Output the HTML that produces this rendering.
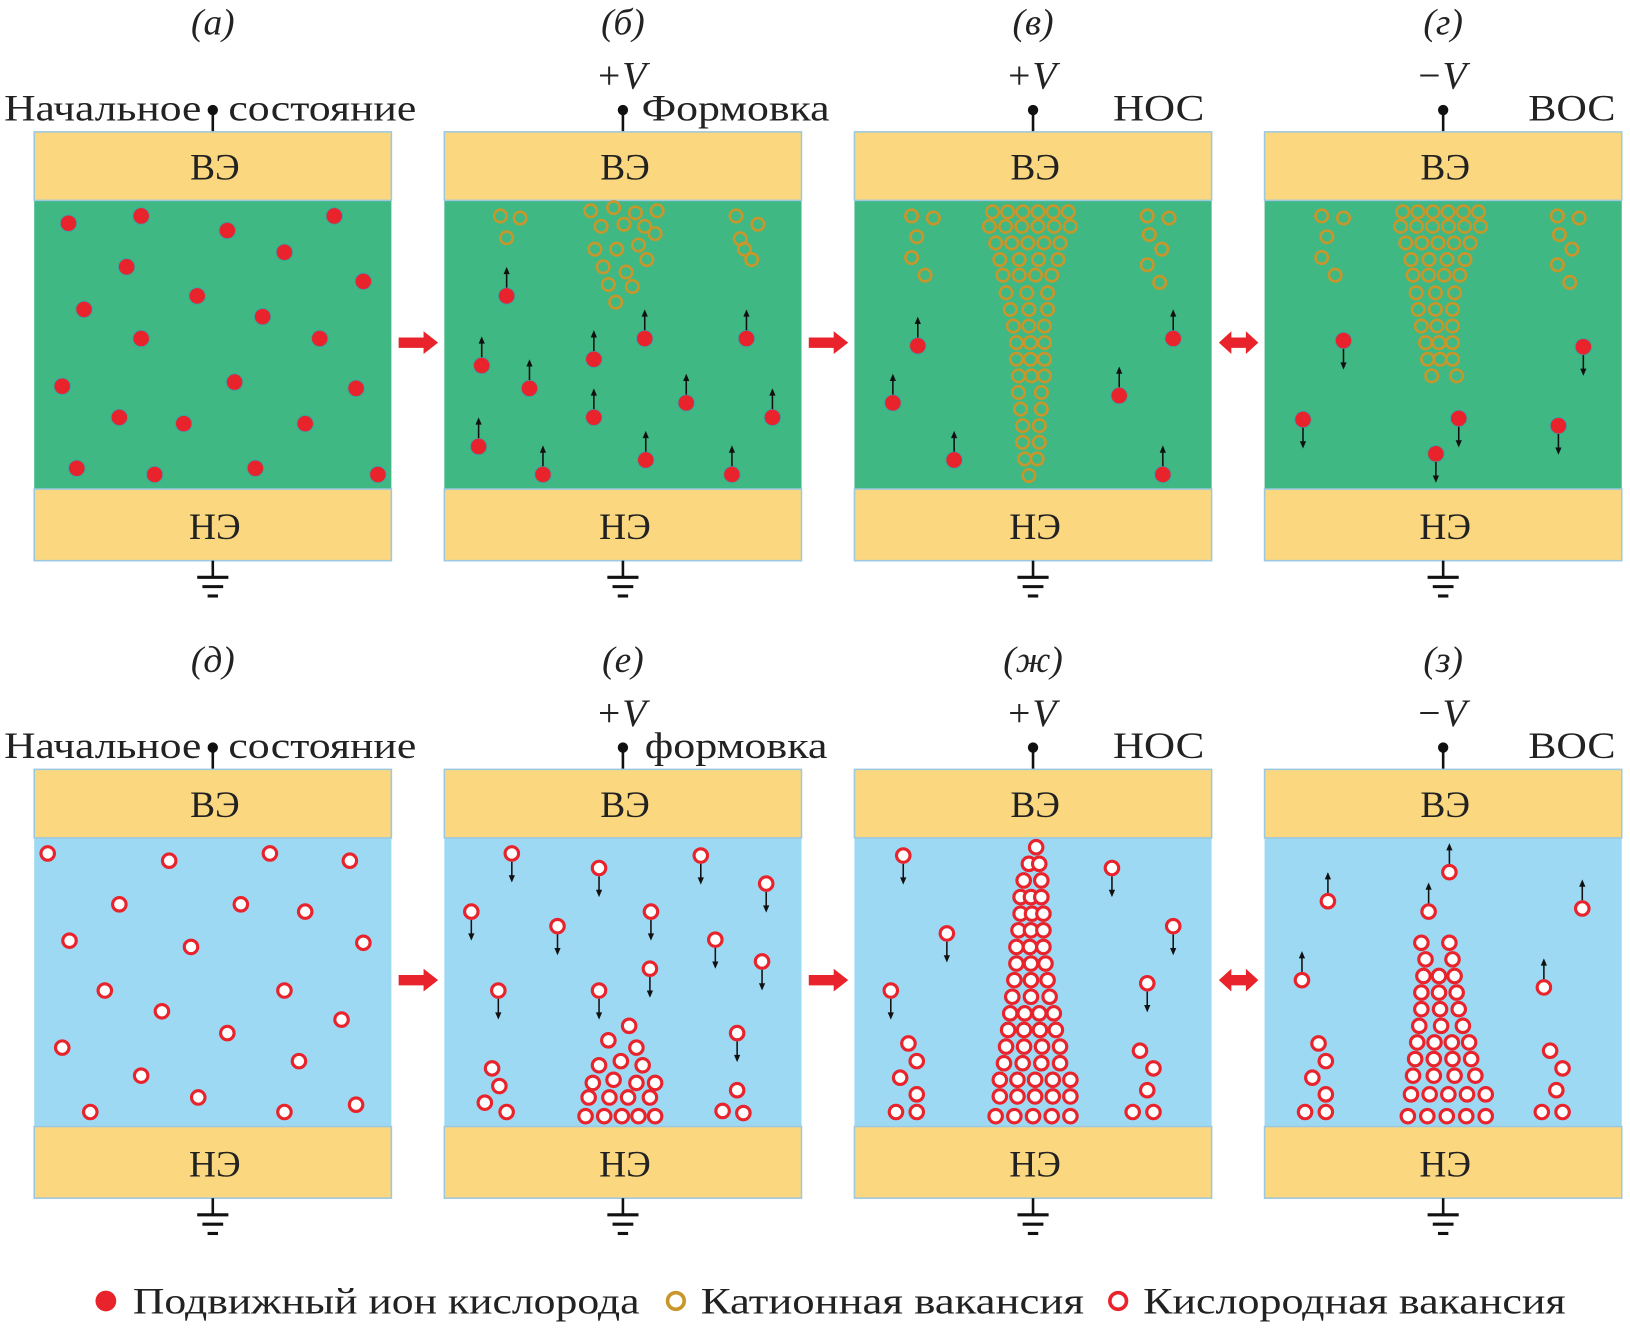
<!DOCTYPE html>
<html><head><meta charset="utf-8"><style>
html,body{margin:0;padding:0;background:#fff}
svg{display:block}
text{font-family:"Liberation Serif","DejaVu Serif",serif;fill:#222}
</style></head><body>
<svg id="fig" width="1630" height="1329" viewBox="0 0 1568 1280" xmlns="http://www.w3.org/2000/svg"></svg>
<script>
const panelX=[32,427,822,1217];
const rowY=[0,614];
const letters=[["(а)","(б)","(в)","(г)"],["(д)","(е)","(ж)","(з)"]];
const volts=[["","+V","+V","−V"],["","+V","+V","−V"]];
const states=[["","Формовка","НОС","ВОС"],["","формовка","НОС","ВОС"]];
const stateX=[[0,617,1071,1471],[0,620,1071,1471]];
const stateW=[[0,181,88,84],[0,176,88,84]];
const dielColor=["#3fb884","#9ed9f4"];
const ionsA=[[65,215],[135,208],[218,222],[321,208],[121,257],[273,243],[349,271],[80,298],[189,285],[252,305],[135,326],[307,326],[59,372],[225,368],[342,374],[114,402],[176,408],[293,408],[73,451],[148,457],[245,451],[363,457]];
const ionsB=[[487,285],[463,352],[509,374],[571,346],[620,326],[718,326],[571,402],[660,388],[743,402],[460,430],[522,457],[621,443],[704,457]];
const catB=[[481,208],[500,210],[487,229],[568,203],[590,200],[611,205],[632,203],[578,218],[600,216],[620,218],[572,240],[593,240],[614,236],[630,225],[580,257],[602,262],[622,250],[585,274],[608,276],[592,291],[708,208],[729,216],[712,230],[716,240],[723,250]];
const ionsC=[[883,333],[859,388],[918,443],[1077,381],[1129,326],[1119,457]];
const catSideC=[[877,208],[898,210],[882,228],[877,248],[890,265],[1104,208],[1125,210],[1106,226],[1118,240],[1104,255],[1116,272]];
const filC=[[204,955,1028,6],[218,952,1030,6],[234,958,1020,5],[250,962,1018,4],[265,965,1012,4],[282,968,1008,3],[298,972,1008,3],[314,975,1005,3],[330,978,1005,3],[346,978,1005,3],[362,980,1005,3],[378,980,1002,2],[394,982,1002,2],[410,984,1000,2],[426,984,1000,2],[442,986,998,2],[458,990,990,1]];
const ionsD=[[1293,328],[1254,404],[1404,403],[1382,437],[1500,410],[1524,334]];
const filD=[[204,1350,1423,6],[218,1348,1425,6],[234,1353,1415,5],[250,1358,1410,4],[265,1360,1405,4],[282,1363,1400,3],[298,1365,1398,3],[314,1368,1398,3],[330,1372,1398,3],[346,1374,1398,3],[362,1378,1402,2]];
const vacE=[[45,822],[162,829],[259,822],[336,829],[114,871],[231,871],[293,878],[66,906],[183,912],[349,908],[100,954],[155,974],[273,954],[328,982],[59,1009],[218,995],[287,1022],[135,1036],[190,1057],[86,1071],[273,1071],[342,1064]];
const vacDownF=[[492,822],[576,836],[674,824],[737,851],[453,878],[536,892],[626,878],[688,905],[479,954],[576,954],[625,933],[733,926],[709,995]];
const vacF=[[473,1029],[480,1046],[466,1062],[487,1071],[605,988],[585,1002],[612,1009],[576,1026],[597,1022],[618,1026],[570,1043],[590,1040],[612,1043],[630,1043],[566,1057],[586,1057],[604,1057],[625,1057],[563,1075],[581,1075],[598,1075],[614,1075],[630,1075],[709,1050],[695,1070],[715,1072]];
const vacDownG=[[869,824],[911,899],[857,954],[1070,836],[1129,892],[1104,947]];
const vacSideG=[[874,1005],[882,1022],[866,1038],[882,1054],[862,1071],[882,1071],[1097,1012],[1110,1029],[1104,1050],[1090,1071],[1110,1071]];
const filG=[[816,997,997,1],[832,990,1000,2],[848,985,1002,2],[864,982,1002,3],[880,982,1004,3],[896,980,1004,3],[912,978,1004,3],[928,978,1006,3],[944,976,1008,3],[960,974,1010,3],[976,972,1014,4],[992,970,1016,4],[1008,968,1020,4],[1024,966,1020,4],[1040,962,1030,5],[1056,962,1030,5],[1075,958,1030,5]];
const vacUpH=[[1395,840],[1278,868],[1375,878],[1523,875],[1253,944],[1486,951]];
const vacSideH=[[1269,1005],[1276,1022],[1263,1038],[1276,1054],[1256,1071],[1276,1071],[1492,1012],[1504,1029],[1498,1050],[1484,1071],[1504,1071]];
const filH=[[908,1368,1395,2],[924,1372,1398,2],[940,1370,1400,3],[956,1368,1402,3],[972,1368,1404,3],[988,1366,1408,3],[1004,1364,1414,4],[1020,1362,1416,4],[1036,1360,1420,4],[1054,1358,1430,5],[1075,1355,1430,5]];

const svg=document.getElementById('fig');
const NS='http://www.w3.org/2000/svg';
function mk(tag,attrs,parent,name){const e=document.createElementNS(NS,tag);for(const k in attrs)e.setAttribute(k,attrs[k]);


(parent||svg).appendChild(e);return e;}
function txt(x,y,s,size,name,extra){const t=mk('text',Object.assign({x:x,y:y,'font-size':size,'text-anchor':'middle'},extra||{}),svg,name);t.textContent=s;return t;}
function ion(x,y,arrow){mk('circle',{cx:x,cy:y,r:8,fill:'#e8232b',stroke:'#38a8a0','stroke-width':1},svg,'oxygen-ion');
 if(arrow==='up'){mk('line',{x1:x,y1:y-8,x2:x,y2:y-26,stroke:'#111','stroke-width':1.5},svg,'ion-arrow');mk('path',{d:`M${x-3},${y-21}L${x},${y-28}L${x+3},${y-21}Z`,fill:'#111'},svg,'ion-arrowhead');}
 if(arrow==='down'){mk('line',{x1:x,y1:y+8,x2:x,y2:y+26,stroke:'#111','stroke-width':1.5},svg,'ion-arrow');mk('path',{d:`M${x-3},${y+21}L${x},${y+28}L${x+3},${y+21}Z`,fill:'#111'},svg,'ion-arrowhead');}}
function cat(x,y){mk('circle',{cx:x,cy:y,r:6,fill:'none',stroke:'#c8962a','stroke-width':2.5},svg,'cation-vacancy');}
function vac(x,y,arrow){mk('circle',{cx:x,cy:y,r:6.5,fill:'#fff',stroke:'#e8232b','stroke-width':3},svg,'oxygen-vacancy');
 if(arrow==='down'){mk('line',{x1:x,y1:y+8,x2:x,y2:y+26,stroke:'#111','stroke-width':1.5},svg,'vacancy-arrow');mk('path',{d:`M${x-3},${y+21}L${x},${y+28}L${x+3},${y+21}Z`,fill:'#111'},svg,'vacancy-arrowhead');}
 if(arrow==='up'){mk('line',{x1:x,y1:y-8,x2:x,y2:y-26,stroke:'#111','stroke-width':1.5},svg,'vacancy-arrow');mk('path',{d:`M${x-3},${y-21}L${x},${y-28}L${x+3},${y-21}Z`,fill:'#111'},svg,'vacancy-arrowhead');}}
function rows(arr,fn){arr.forEach(r=>{const [y,x1,x2,n]=r;for(let i=0;i<n;i++){const x=n===1?(x1+x2)/2:x1+(x2-x1)*i/(n-1);fn(x,y);}});}

for(let r=0;r<2;r++){const dy=rowY[r];
 for(let p=0;p<4;p++){const x=panelX[p];const cx=x+172;
  txt(cx,dy+33,letters[r][p],36,'panel-label',{'font-style':'italic'});
  if(volts[r][p])txt(cx-2,dy+85,volts[r][p],38,'voltage-label',{'font-style':'italic'});
  mk('line',{x1:cx,y1:dy+106,x2:cx,y2:dy+127,stroke:'#111','stroke-width':2.5},svg,'terminal-wire');
  mk('circle',{cx:cx,cy:dy+106,r:5,fill:'#111'},svg,'terminal-dot');
  if(p===0){txt(3,dy+116,'Начальное',36,'state-label',{'text-anchor':'start',textLength:190,lengthAdjust:'spacingAndGlyphs'});txt(219,dy+116,'состояние',36,'state-label',{'text-anchor':'start',textLength:181,lengthAdjust:'spacingAndGlyphs'});}
  else txt(stateX[r][p],dy+116,states[r][p],36,'state-label',{'text-anchor':'start',textLength:stateW[r][p],lengthAdjust:'spacingAndGlyphs'});
  mk('rect',{x:x,y:dy+193,width:344,height:278,fill:dielColor[r]},svg,'dielectric-layer');
  mk('rect',{x:x,y:dy+127,width:344,height:66,fill:'#fbd880',stroke:'#9cc8e0','stroke-width':1.5},svg,'top-electrode');
  mk('rect',{x:x,y:dy+471,width:344,height:69,fill:'#fbd880',stroke:'#9cc8e0','stroke-width':1.5},svg,'bottom-electrode');
  txt(cx+2,dy+173,'ВЭ',36,'top-electrode-label');
  txt(cx+2,dy+519,'НЭ',36,'bottom-electrode-label');
  mk('line',{x1:cx,y1:dy+540,x2:cx,y2:dy+556,stroke:'#111','stroke-width':2.5},svg,'ground-wire');
  [[15,556],[10,565],[5,574]].forEach(g=>mk('line',{x1:cx-g[0],y1:dy+g[1],x2:cx+g[0],y2:dy+g[1],stroke:'#111','stroke-width':3},svg,'ground-symbol'));
  if(p>0){const ax=panelX[p]-44, ay=dy+330;
   if(p<3) mk('path',{d:`M${ax},${ay-5}L${ax+24},${ay-5}L${ax+24},${ay-11}L${ax+38},${ay}L${ax+24},${ay+11}L${ax+24},${ay+5}L${ax},${ay+5}Z`,fill:'#e8232b'},svg,'transition-arrow');
   else mk('path',{d:`M${ax},${ay}L${ax+12},${ay-11}L${ax+12},${ay-5}L${ax+26},${ay-5}L${ax+26},${ay-11}L${ax+38},${ay}L${ax+26},${ay+11}L${ax+26},${ay+5}L${ax+12},${ay+5}L${ax+12},${ay+11}Z`,fill:'#e8232b'},svg,'reversible-arrow');}
 }}
ionsA.forEach(d=>ion(d[0],d[1]));
catB.forEach(d=>cat(d[0],d[1]));ionsB.forEach(d=>ion(d[0],d[1],'up'));
catSideC.forEach(d=>cat(d[0],d[1]));rows(filC,cat);ionsC.forEach(d=>ion(d[0],d[1],'up'));
catSideC.forEach(d=>cat(d[0]+395,d[1]));rows(filD,cat);ionsD.forEach(d=>ion(d[0],d[1],'down'));
vacE.forEach(d=>vac(d[0],d[1]));
vacF.forEach(d=>vac(d[0],d[1]));vacDownF.forEach(d=>vac(d[0],d[1],'down'));
vacSideG.forEach(d=>vac(d[0],d[1]));rows(filG,vac);vacDownG.forEach(d=>vac(d[0],d[1],'down'));
vacSideH.forEach(d=>vac(d[0],d[1]));rows(filH,vac);vacUpH.forEach(d=>vac(d[0],d[1],'up'));
mk('circle',{cx:101,cy:1253,r:10,fill:'#e8232b'},svg,'legend-ion-marker');
txt(127,1265,'Подвижный ион кислорода',36,'legend-ion-label',{'text-anchor':'start',textLength:488,lengthAdjust:'spacingAndGlyphs'});
mk('circle',{cx:650,cy:1253,r:8,fill:'none',stroke:'#c8962a','stroke-width':3.5},svg,'legend-cation-marker');
txt(674,1265,'Катионная вакансия',36,'legend-cation-label',{'text-anchor':'start',textLength:369,lengthAdjust:'spacingAndGlyphs'});
mk('circle',{cx:1076,cy:1253,r:8,fill:'none',stroke:'#e8232b','stroke-width':3.5},svg,'legend-vacancy-marker');
txt(1100,1265,'Кислородная вакансия',36,'legend-vacancy-label',{'text-anchor':'start',textLength:407,lengthAdjust:'spacingAndGlyphs'});
</script>
</body></html>
